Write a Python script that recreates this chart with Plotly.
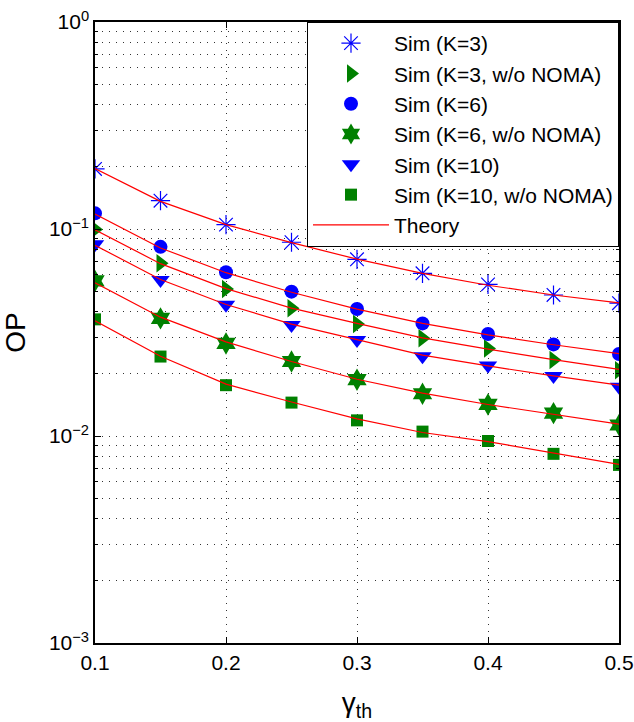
import plotly.graph_objects as go

gamma_th = [0.1, 0.15, 0.2, 0.25, 0.3, 0.35, 0.4, 0.45, 0.5]

sim_k3 = [0.195, 0.137, 0.105, 0.0863, 0.0714, 0.0611, 0.0540, 0.0480, 0.0438]
sim_k3_wo = [0.0995, 0.0683, 0.0513, 0.0414, 0.0348, 0.0297, 0.0265, 0.0233, 0.0208]
sim_k6 = [0.119, 0.082, 0.0618, 0.0498, 0.0411, 0.0350, 0.0311, 0.0277, 0.0249]
sim_k6_wo = [0.0561, 0.0370, 0.0280, 0.0229, 0.0187, 0.0160, 0.0142, 0.0129, 0.0113]
sim_k10 = [0.0844, 0.0567, 0.0430, 0.0344, 0.0291, 0.0243, 0.0219, 0.0195, 0.0173]
sim_k10_wo = [0.0366, 0.0242, 0.0176, 0.0145, 0.0119, 0.0105, 0.00946, 0.0082, 0.00725]

th_k3 = [0.196, 0.136, 0.105, 0.0860, 0.0715, 0.0610, 0.0535, 0.0480, 0.0440]
th_k3_wo = [0.099, 0.0680, 0.0515, 0.0415, 0.0350, 0.0298, 0.0263, 0.0234, 0.0210]
th_k6 = [0.118, 0.081, 0.0615, 0.0495, 0.0410, 0.0350, 0.0308, 0.0276, 0.0250]
th_k6_wo = [0.0550, 0.0375, 0.0285, 0.0229, 0.0188, 0.0161, 0.0142, 0.0127, 0.0114]
th_k10 = [0.0835, 0.0570, 0.0432, 0.0347, 0.0292, 0.0246, 0.0218, 0.0195, 0.0176]
th_k10_wo = [0.0360, 0.0243, 0.0178, 0.0146, 0.0121, 0.0104, 0.0094, 0.0083, 0.0073]

sim_names = ["Sim (K=3)", "Sim (K=3, w/o NOMA)", "Sim (K=6)",
             "Sim (K=6, w/o NOMA)", "Sim (K=10)", "Sim (K=10, w/o NOMA)"]
x_ticks = [0.1, 0.2, 0.3, 0.4, 0.5]
x_ticktext = ["0.1", "0.2", "0.3", "0.4", "0.5"]
y_major = [1e-3, 1e-2, 1e-1, 1e0]
y_ticktext = ["10<sup>\u22123</sup>", "10<sup>\u22122</sup>", "10<sup>\u22121</sup>", "10<sup>0</sup>"]

BLUE = "#0000ff"
GREEN = "#008000"
RED = "#ff0000"

styles = [
    dict(symbol="asterisk-open", size=16, color=BLUE, line=dict(color=BLUE, width=1.2)),
    dict(symbol="triangle-right", size=16, color=GREEN, line=dict(color=GREEN, width=0)),
    dict(symbol="circle", size=14, color=BLUE, line=dict(color=BLUE, width=0)),
    dict(symbol="hexagram", size=17, color=GREEN, line=dict(color=GREEN, width=0)),
    dict(symbol="triangle-down", size=16, color=BLUE, line=dict(color=BLUE, width=0)),
    dict(symbol="square", size=12, color=GREEN, line=dict(color=GREEN, width=0)),
]

sims = [sim_k3, sim_k3_wo, sim_k6, sim_k6_wo, sim_k10, sim_k10_wo]
ths = [th_k3, th_k3_wo, th_k6, th_k6_wo, th_k10, th_k10_wo]

fig = go.Figure()
for name, ys, st in zip(sim_names, sims, styles):
    fig.add_trace(go.Scatter(x=gamma_th, y=ys, mode="markers", name=name, marker=st))
for i, ys in enumerate(ths):
    fig.add_trace(go.Scatter(x=gamma_th, y=ys, mode="lines", name="Theory",
                             line=dict(color=RED, width=1.2), showlegend=(i == 0)))

minor_y = [m * 10 ** e for e in (-3, -2, -1) for m in range(2, 10)]
grid_dash = "1px,6px"

fig.update_layout(
    width=634, height=722,
    margin=dict(l=95, r=15, t=22, b=79),
    plot_bgcolor="white", paper_bgcolor="white",
    font=dict(family="Liberation Sans, Arial, sans-serif", size=21, color="black"),
    showlegend=True,
    legend=dict(x=1, y=1, xanchor="right", yanchor="top",
                bgcolor="white", bordercolor="black", borderwidth=1,
                font=dict(size=21), itemwidth=76, tracegroupgap=0),
)
fig.update_xaxes(
    range=[0.1, 0.5], tickvals=x_ticks, ticktext=x_ticktext, automargin=False,
    ticklabeloverflow="allow",
    showline=True, linecolor="black", linewidth=1.5, mirror="ticks",
    ticks="inside", ticklen=6, tickcolor="black",
    showgrid=True, gridcolor="#333333", griddash=grid_dash, gridwidth=1,
    zeroline=False,
    title=dict(text="\u03b3<sub>th</sub>", font=dict(size=28), standoff=20),
)
fig.update_yaxes(
    type="log", range=[-3, 0], tickvals=y_major, ticktext=y_ticktext, automargin=False,
    ticklabeloverflow="allow",
    showline=True, linecolor="black", linewidth=1.5, mirror="ticks",
    ticks="inside", ticklen=6, tickcolor="black",
    showgrid=True, gridcolor="#333333", griddash=grid_dash, gridwidth=1,
    minor=dict(tickvals=minor_y, ticks="inside", ticklen=3, tickcolor="black",
               showgrid=True, gridcolor="#333333", griddash=grid_dash, gridwidth=1),
    zeroline=False,
    title=dict(text="OP", font=dict(size=28), standoff=20),
)

fig.write_html("out.html", config={"displayModeBar": False},
               post_script="document.body.style.margin='0px';")
